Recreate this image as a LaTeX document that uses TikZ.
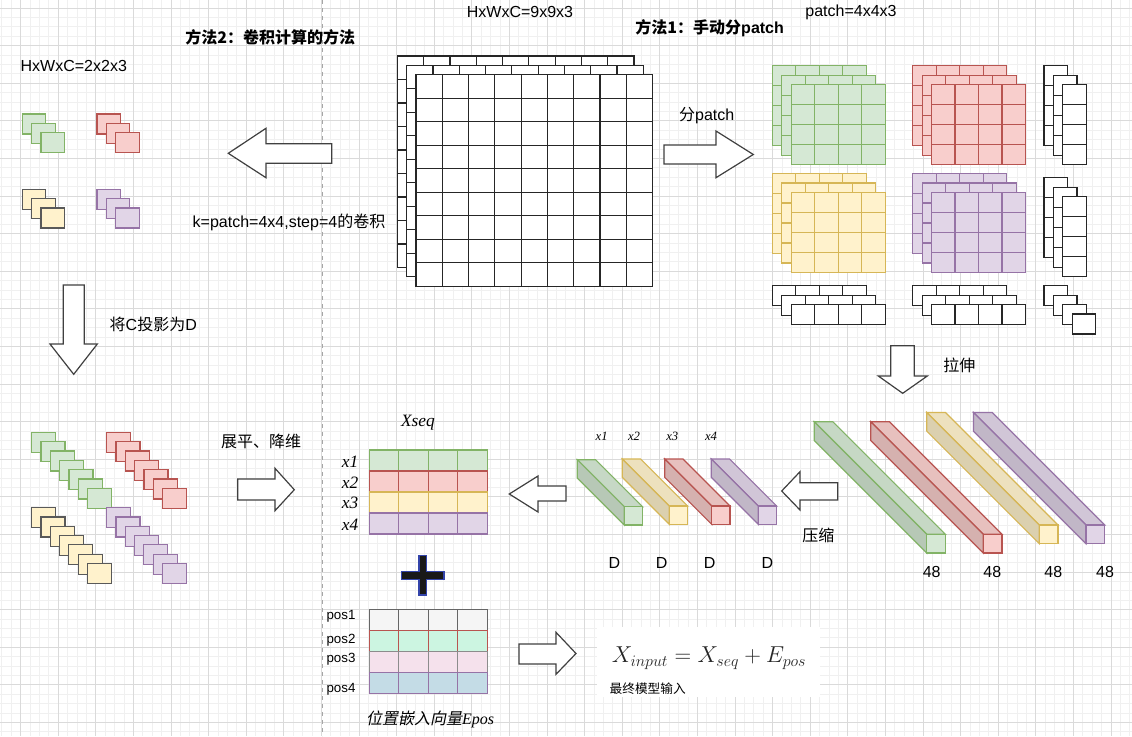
\documentclass[tikz,border=0pt]{standalone}
\usepackage{fontspec}
\setmainfont{Liberation Sans}
\newfontfamily\cjk{Noto Sans CJK SC}
\newfontfamily\cjkit{Noto Sans CJK SC}[FakeSlant=0.2]
\newfontfamily\tms{Liberation Serif}
\usepackage{xcolor}
\usepackage{tikz}

\definecolor{grfill}{HTML}{D5E8D4}\definecolor{grline}{HTML}{82B366}
\definecolor{rdfill}{HTML}{F8CECC}\definecolor{rdline}{HTML}{B85450}
\definecolor{ylfill}{HTML}{FFF2CC}\definecolor{ylline}{HTML}{D6B656}
\definecolor{pufill}{HTML}{E1D5E7}\definecolor{puline}{HTML}{9673A6}
\definecolor{gyfill}{HTML}{F5F5F5}\definecolor{gyline}{HTML}{666666}
\definecolor{mtfill}{HTML}{CCF5E1}
\definecolor{pkfill}{HTML}{F5E1EC}
\definecolor{blfill}{HTML}{C4DCE6}
\definecolor{plusblue}{HTML}{3344AA}
\definecolor{gmaj}{HTML}{DADADA}\definecolor{gmin}{HTML}{F0F0F0}

\tikzset{
  gminor/.style={draw=gmin, line width=0.75pt},
  gmajor/.style={draw=gmaj, line width=0.75pt},
  sep/.style={draw=black!35, line width=0.75pt, dash pattern=on 3pt off 3pt},
  wcell/.style={draw=black!85, fill=white, line width=0.9pt},
  grcell/.style={draw=grline, fill=grfill, line width=0.9pt},
  rdcell/.style={draw=rdline, fill=rdfill, line width=0.9pt},
  ylcell/.style={draw=ylline, fill=ylfill, line width=0.9pt},
  pucell/.style={draw=puline, fill=pufill, line width=0.9pt},
  ylsq/.style={draw=black!65, fill=ylfill, line width=0.9pt},
  barrow/.style={draw=black!75, fill=white, line width=0.9pt, line join=miter},
  txt/.style={inner sep=0pt, font=\fontsize{12}{14}\selectfont},
  ttl/.style={inner sep=0pt, font=\fontsize{12}{14}\selectfont\bfseries},
  smalltxt/.style={inner sep=0pt, font=\fontsize{10}{12}\selectfont},
  itx/.style={inner sep=0pt, font=\fontsize{13}{15}\selectfont\tms\itshape},
  itsmall/.style={inner sep=0pt, font=\fontsize{9.5}{11}\selectfont\tms\itshape}
}

\newcommand{\cellgrid}[7]{%
  \foreach \gi in {1,...,#4}{\foreach \gj in {1,...,#5}{%
    \draw[#1] ({#2+(\gi-1)*#6},{#3+(\gj-1)*#7}) rectangle ++(#6,#7);}}}
\newcommand{\layers}[9]{%
  \foreach \gl in {1,...,#1}{\cellgrid{#2}{#3+(\gl-1)*#9}{#4+(\gl-1)*#9}{#5}{#6}{#7}{#8}}}
\newcommand{\cuboid}[5]{%
  \filldraw[draw=#1line, fill=#1fill!93!black, line width=0.9pt] (#2,#3) -- ++(#4,0) -- ++(-#5,-#5) -- ++(-#4,0) -- cycle;
  \filldraw[draw=#1line, fill=#1fill!86!black, line width=0.9pt] (#2,#3) -- ++(0,#4) -- ++(-#5,-#5) -- ++(0,-#4) -- cycle;
  \filldraw[draw=#1line, fill=#1fill, line width=0.9pt] (#2,#3) rectangle ++(#4,#4);}

\begin{document}
\begin{tikzpicture}[x=0.75pt,y=-0.75pt]
\useasboundingbox (0,0) rectangle (1132,736);
\fill[white] (0,0) rectangle (1132,736);
\foreach \k in {0,...,120} \draw[gminor] ({1.9+\k*9.4},0) -- ++(0,736);
\foreach \k in {0,...,78} \draw[gminor] (0,{-1.4+\k*9.4}) -- ++(1132,0);
\foreach \k in {0,...,29} \draw[gmajor] ({20.7+\k*37.6},0) -- ++(0,736);
\foreach \k in {0,...,19} \draw[gmajor] (0,{8+\k*37.6}) -- ++(1132,0);
\draw[sep] (322,0) -- (322,736);

\layers{3}{wcell}{397.3}{56}{9}{9}{26.3}{23.5}{9.3}

\layers{3}{grcell}{772.3}{65.7}{4}{4}{23.5}{20}{9.4}
\layers{3}{rdcell}{912.7}{65.7}{4}{4}{23.5}{20}{9.4}
\layers{3}{ylcell}{772.3}{173.5}{4}{4}{23.5}{20}{9.4}
\layers{3}{pucell}{912.7}{173.5}{4}{4}{23.5}{20}{9.4}
\layers{3}{wcell}{1044}{65.7}{1}{4}{23.5}{20}{9.4}
\layers{3}{wcell}{1044}{177.7}{1}{4}{23.5}{20}{9.4}
\layers{3}{wcell}{772.3}{285.7}{4}{1}{23.5}{20}{9.4}
\layers{3}{wcell}{912.7}{285.7}{4}{1}{23.5}{20}{9.4}
\layers{4}{wcell}{1044}{285.7}{1}{1}{23.5}{20}{9.4}

\layers{3}{grcell}{22.3}{114}{1}{1}{23.5}{20}{9.3}
\layers{3}{rdcell}{97}{114}{1}{1}{23.5}{20}{9.3}
\layers{3}{ylsq}{22.3}{189.3}{1}{1}{23.5}{20}{9.3}
\layers{3}{pucell}{97}{189.3}{1}{1}{23.5}{20}{9.3}

\layers{7}{grcell}{31.7}{432.3}{1}{1}{24}{20}{9.33}
\layers{7}{rdcell}{106.7}{432.3}{1}{1}{24}{20}{9.33}
\layers{7}{ylsq}{31.7}{507.7}{1}{1}{24}{20}{9.28}
\layers{7}{pucell}{106.7}{507.7}{1}{1}{24}{20}{9.28}

\cellgrid{grcell}{369.3}{450}{4}{1}{29.5}{21}
\cellgrid{rdcell}{369.3}{471}{4}{1}{29.5}{21}
\cellgrid{ylcell}{369.3}{492}{4}{1}{29.5}{21}
\cellgrid{pucell}{369.3}{513}{4}{1}{29.5}{21}

\cellgrid{draw=gyline,fill=gyfill,line width=0.9pt}{369.3}{609.3}{4}{1}{29.5}{21}
\cellgrid{draw=rdline,fill=mtfill,line width=0.9pt}{369.3}{630.3}{4}{1}{29.5}{21}
\cellgrid{draw=black!45,fill=pkfill,line width=0.9pt}{369.3}{651.3}{4}{1}{29.5}{21}
\cellgrid{draw=puline,fill=blfill,line width=0.9pt}{369.3}{672.3}{4}{1}{29.5}{21}

\cuboid{gr}{624.3}{506.7}{18.3}{47}
\cuboid{yl}{669.3}{506}{18.3}{47}
\cuboid{rd}{711.7}{506}{18.3}{47}
\cuboid{pu}{758.3}{506}{18.3}{47}

\cuboid{gr}{926.7}{534.3}{18.7}{112.5}
\cuboid{rd}{983.3}{534.3}{18.7}{112.5}
\cuboid{yl}{1039.3}{525}{18.7}{112.5}
\cuboid{pu}{1086}{525}{18.7}{112.5}

\draw[barrow] (228.3,153.3) -- (266,128.3) -- (266,143.7) -- (331.7,143.7) -- (331.7,163.3) -- (266,163.3) -- (266,177.7) -- cycle;
\draw[barrow] (664,145) -- (716,145) -- (716,131) -- (753.3,154.5) -- (716,177.7) -- (716,164) -- (664,164) -- cycle;
\draw[barrow] (63.3,285) -- (84.3,285) -- (84.3,344) -- (97.3,344) -- (73.7,374.3) -- (50,344) -- (63.3,344) -- cycle;
\draw[barrow] (890.7,345.7) -- (914.3,345.7) -- (914.3,376) -- (927.3,376) -- (902.7,393.3) -- (878.3,376) -- (890.7,376) -- cycle;
\draw[barrow] (237.7,479) -- (275,479) -- (275,468.3) -- (294.3,489.7) -- (275,510.7) -- (275,500) -- (237.7,500) -- cycle;
\draw[barrow] (509.3,494) -- (538,476) -- (538,486) -- (566,486) -- (566,501) -- (538,501) -- (538,512) -- cycle;
\draw[barrow] (781.7,491) -- (800,471.7) -- (800,482.7) -- (837.7,482.7) -- (837.7,500) -- (800,500) -- (800,510) -- cycle;
\draw[barrow] (519,644) -- (556,644) -- (556,632.3) -- (576,653.5) -- (556,674.3) -- (556,664) -- (519,664) -- cycle;

\filldraw[fill=black!90, draw=plusblue, line width=0.9pt] (419,555.7) -- (426.7,555.7) -- (426.7,571.7) -- (444,571.7) -- (444,579.3) -- (426.7,579.3) -- (426.7,595) -- (419,595) -- (419,579.3) -- (401.7,579.3) -- (401.7,571.7) -- (419,571.7) -- cycle;

\fill[white] (597,627) rectangle (820,697);

\node[ttl] (m2) at (270.3,37.3) {{\cjk 方法2：卷积计算的方法}};
\node[ttl] (m1) at (709.7,28.3) {{\cjk 方法1：手动分}patch};
\node[txt] (big) at (520,12) {HxWxC=9x9x3};
\node[txt] (psize) at (851,12) {patch=4x4x3};
\node[txt] (small) at (73.8,65.7) {HxWxC=2x2x3};
\node[txt] (conv) at (289,222.7) {k=patch=4x4,step=4{\cjk 的卷积}};
\node[txt] (split) at (706.7,115.7) {{\cjk 分}patch};
\node[txt] (proj) at (153.3,324) {{\cjk 将}C{\cjk 投影为}D};
\node[txt] (stretch) at (959.3,365) {\cjk 拉伸};
\node[txt] (flat) at (261,441.7) {\cjk 展平、降维};
\node[txt] (press) at (818.3,535) {\cjk 压缩};

\node[txt] (n1) at (931.7,572.3) {48};
\node[txt] (n2) at (992.3,572.3) {48};
\node[txt] (n3) at (1053.3,572.3) {48};
\node[txt] (n4) at (1105,572.3) {48};
\node[txt] (d1) at (614.3,562.7) {D};
\node[txt] (d2) at (661.7,562.7) {D};
\node[txt] (d3) at (709.7,562.7) {D};
\node[txt] (d4) at (767.3,562.7) {D};

\node[itsmall] (b1) at (601.7,436) {x1};
\node[itsmall] (b2) at (634,436) {x2};
\node[itsmall] (b3) at (672.3,436) {x3};
\node[itsmall] (b4) at (711,436) {x4};

\node[itx] (xseq) at (418,423) {Xseq};
\node[itx] (r1) at (350,461.7) {x1};
\node[itx] (r2) at (350,482.7) {x2};
\node[itx] (r3) at (350,503.3) {x3};
\node[itx] (r4) at (350,525) {x4};

\node[smalltxt] (p1) at (341,616.7) {pos1};
\node[smalltxt] (p2) at (341,640) {pos2};
\node[smalltxt] (p3) at (341,659.3) {pos3};
\node[smalltxt] (p4) at (341,689) {pos4};
\node[txt] (epos) at (430,719.3) {{\cjkit 位置嵌入向量}{\tms\itshape Epos}};

\node[inner sep=0pt, text=black!85, font=\fontsize{17}{19}\selectfont] (xin) at (709,658) {$X_{input}=X_{seq}+E_{pos}$};
\node[inner sep=0pt, font=\fontsize{9.5}{11}\selectfont] (final) at (647.7,688.3) {\cjk 最终模型输入};
\end{tikzpicture}
\end{document}
